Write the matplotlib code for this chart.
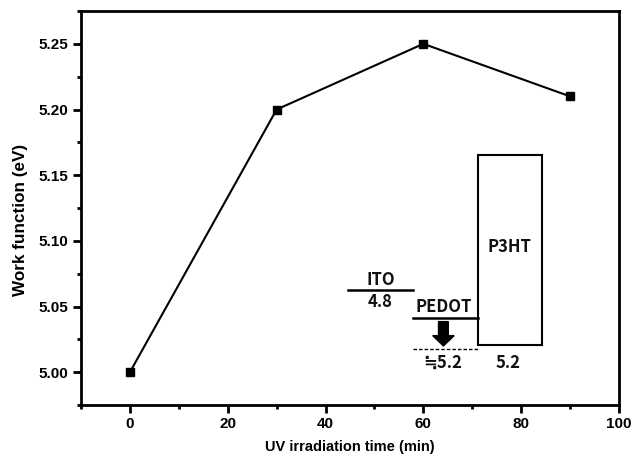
import matplotlib
matplotlib.use("Agg")
import matplotlib.pyplot as plt
from matplotlib.ticker import MultipleLocator
from matplotlib.patches import Rectangle, FancyArrow

# UV irradiation time vs. PEDOT work function
time_min = [0, 30, 60, 90]
work_function = [5.00, 5.20, 5.25, 5.21]

x_ticks = [0, 20, 40, 60, 80, 100]
y_ticks = [5.00, 5.05, 5.10, 5.15, 5.20, 5.25]

plt.rcParams['font.family'] = ['Liberation Sans', 'DejaVu Sans']

fig = plt.figure(figsize=(6.35, 4.57), dpi=100)
ax = fig.add_axes([81 / 635, 1 - 405 / 457, (619 - 81) / 635, (405 - 11) / 457])

ax.plot(time_min, work_function, color='black', lw=1.5, marker='s',
        markersize=6, markerfacecolor='black', markeredgecolor='black')

ax.set_xlim(-10, 100)
ax.set_ylim(4.975, 5.275)
ax.set_xticks(x_ticks)
ax.set_yticks(y_ticks)
ax.set_yticklabels([f"{v:.2f}" for v in y_ticks])
ax.xaxis.set_minor_locator(MultipleLocator(10))
ax.yaxis.set_minor_locator(MultipleLocator(0.025))

for s in ax.spines.values():
    s.set_linewidth(2.0)
ax.tick_params(which='major', direction='out', length=5.5, width=2, labelsize=11)
ax.tick_params(which='minor', direction='out', length=3, width=2)
for lab in ax.get_xticklabels() + ax.get_yticklabels():
    lab.set_fontweight('bold')

ax.set_xlabel('UV irradiation time (min)', fontsize=10.5, fontweight='bold')
ax.set_ylabel('Work function (eV)', fontsize=12.3, fontweight='bold')
ax.xaxis.set_label_coords(0.5, -0.089)
ax.yaxis.set_label_coords(-0.099, 0.47)

# Energy-level diagram: ITO / PEDOT / P3HT
dfont = dict(family=['Noto Sans CJK KR', 'DejaVu Sans'], fontweight='bold',
             fontsize=12, ha='center', va='center', color='#111111')

ax.plot([44.5, 57.8], [5.0623, 5.0623], color='black', lw=1.8)
ax.text(51.2, 5.0705, 'ITO', **dfont)
ax.text(51.2, 5.0535, '4.8', **dfont)

ax.plot([57.8, 71.1], [5.041, 5.041], color='black', lw=1.8)
ax.text(64.1, 5.0495, 'PEDOT', **dfont)
ax.add_patch(FancyArrow(64.1, 5.0385, 0, -0.0185, width=2.0, head_width=4.4,
                        head_length=0.0078, length_includes_head=True,
                        color='black'))
ax.plot([57.8, 71.1], [5.0175, 5.0175], color='black', lw=1.0, ls=(0, (2.5, 1.5)))
ax.text(63.9, 5.007, '≒5.2', **dfont)

ax.add_patch(Rectangle((71.1, 5.0205), 13.1, 5.165 - 5.0205, fill=False,
                       edgecolor='black', lw=1.5))
ax.text(77.7, 5.095, 'P3HT', **dfont)
ax.text(77.3, 5.007, '5.2', **dfont)

fig.savefig('out.png', dpi=100)
